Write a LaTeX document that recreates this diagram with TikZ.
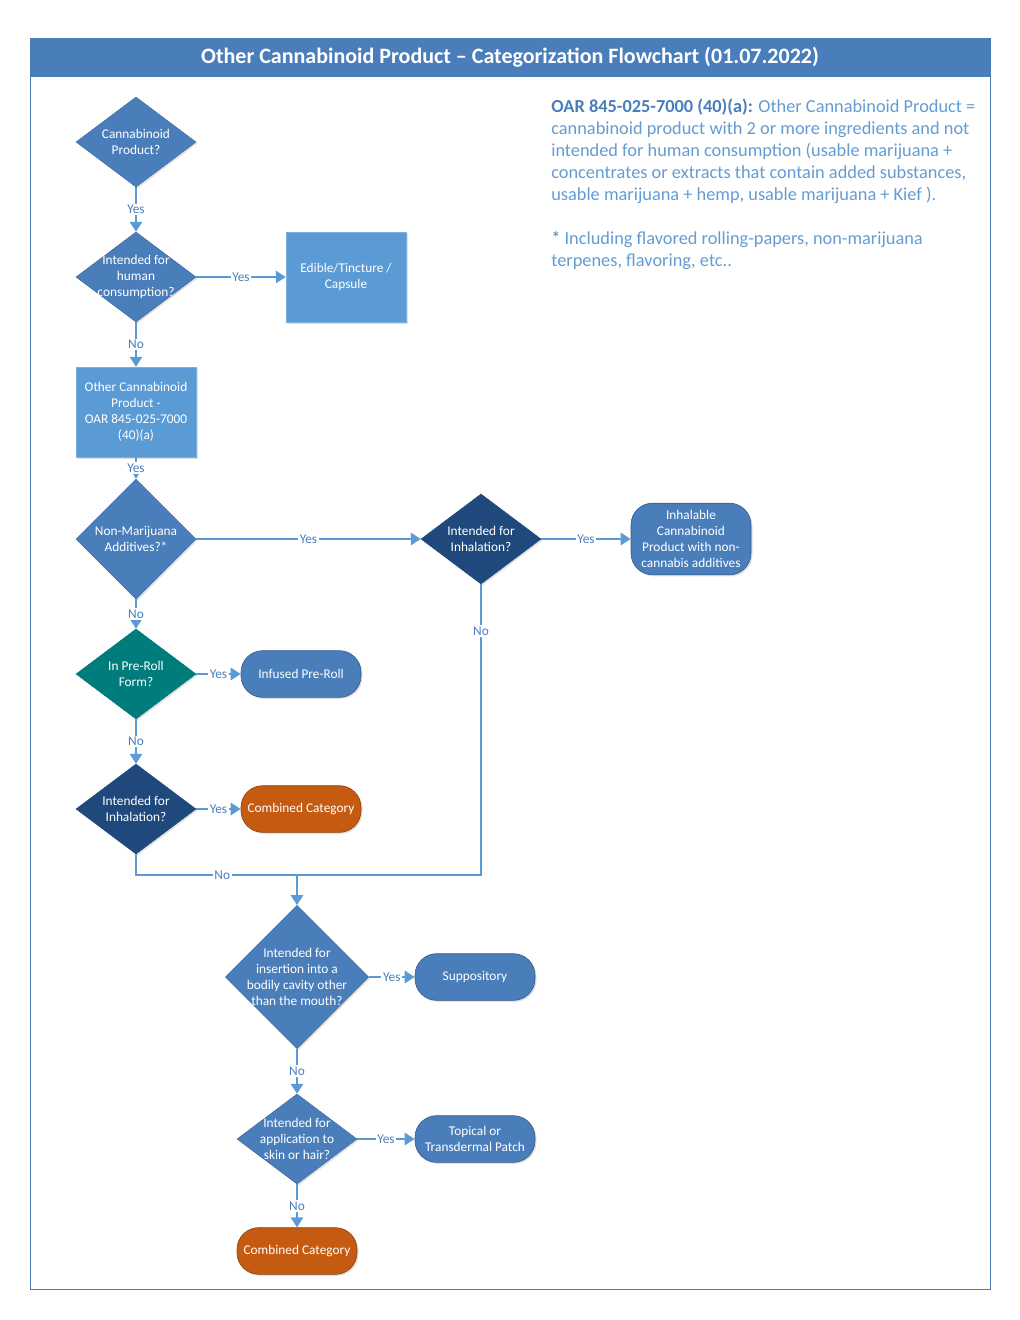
\documentclass[tikz,border=0pt]{standalone}
\usepackage{fontspec}
\setmainfont{Carlito}
\usepackage{xcolor}
\usepackage{tikz}
\usetikzlibrary{shapes.geometric, arrows.meta, shadows, calc}
\definecolor{midblue}{RGB}{74,126,187}
\definecolor{boxblue}{RGB}{91,155,213}
\definecolor{darkblue}{RGB}{31,73,125}
\definecolor{tealgreen}{RGB}{0,124,124}
\definecolor{burnt}{RGB}{197,90,17}
\definecolor{lineblue}{RGB}{91,155,213}
\definecolor{notecol}{RGB}{100,155,210}
\tikzstyle{boxshadow} = [drop shadow={opacity=0.25, shadow xshift=0.9pt, shadow yshift=-0.9pt}]
\tikzstyle{decision} = [diamond, font=\fontsize{8}{9.6}\selectfont, align=center, text=white, minimum width=72pt, minimum height=54pt, inner sep=-6pt, fill=midblue, draw=midblue!85!black, line width=0.3pt, boxshadow]
\tikzstyle{darkdecision} = [decision, fill=darkblue, draw=darkblue]
\tikzstyle{tealdecision} = [decision, fill=tealgreen, draw=tealgreen]
\tikzstyle{process} = [rectangle, font=\fontsize{8}{9.6}\selectfont, align=center, text=white, minimum width=72pt, minimum height=54pt, fill=boxblue, draw=boxblue!80!white, line width=0.3pt, boxshadow]
\tikzstyle{terminal} = [rectangle, rounded corners=13pt, font=\fontsize{8}{9.6}\selectfont, align=center, text=white, minimum width=72pt, minimum height=28pt, fill=midblue, draw=midblue!75!black, line width=0.4pt, boxshadow]
\tikzstyle{combined} = [terminal, fill=burnt, draw=burnt!75!black]
\tikzstyle{lbl} = [font=\fontsize{8}{9.6}\selectfont, text=midblue, fill=white, inner sep=1pt]
\tikzstyle{line} = [line width=1pt, lineblue]
\tikzstyle{arrow} = [line, -{Triangle[width=7.5pt,length=6pt]}]
\tikzstyle{notetext} = [font=\fontsize{11}{13.2}\selectfont, text=notecol, align=left, inner sep=0pt]

\begin{document}
\begin{tikzpicture}[x=0.6pt, y=0.6pt, node distance=81pt]
\useasboundingbox (0,0) rectangle (1020,-1320);
% frame and title
\draw [midblue, line width=0.6pt] (30,-38) rectangle (990,-1289);
\node (title) [rectangle, fill=midblue, minimum width=576pt, minimum height=23.4pt, text=white, font=\fontsize{13.2}{15}\selectfont\bfseries] at (510,-57.5) {Other Cannabinoid Product -- Categorization Flowchart (01.07.2022)};
\node (note) [notetext, anchor=north west] at (551,-99) {\textcolor{midblue}{\textbf{OAR 845-025-7000 (40)(a):}} Other Cannabinoid Product =\\
cannabinoid product with 2 or more ingredients and not\\
intended for human consumption (usable marijuana +\\
concentrates or extracts that contain added substances,\\
usable marijuana + hemp, usable marijuana + Kief ).\\[13.2pt]
\textcolor{midblue}{*} Including flavored rolling-papers, non-marijuana\\
terpenes, flavoring, etc..};

% flowchart
\node (isProduct) [decision] at (136,-142) {Cannabinoid\\Product?};
\node (humanUse) [decision, below of=isProduct] {Intended for\\human\\consumption?};
\node (edible) [process, right of=humanUse, xshift=45pt] {Edible/Tincture /\\Capsule};
\node (otherProd) [process, below of=humanUse] {Other Cannabinoid\\Product -\\OAR 845-025-7000\\(40)(a)};
\node (additives) [decision, below of=otherProd, yshift=4.8pt, minimum height=72pt] {Non-Marijuana\\Additives?*};
\node (inhaleA) [darkdecision, right of=additives, xshift=126pt] {Intended for\\Inhalation?};
\node (inhalable) [terminal, right of=inhaleA, xshift=45pt, minimum height=43pt] {Inhalable\\Cannabinoid\\Product with non-\\cannabis additives};
\node (preRoll) [tealdecision, below of=additives] {In Pre-Roll\\Form?};
\node (infused) [terminal, right of=preRoll, xshift=18pt] {Infused Pre-Roll};
\node (inhaleB) [darkdecision, below of=preRoll] {Intended for\\Inhalation?};
\node (comboA) [combined, right of=inhaleB, xshift=18pt] {Combined Category};
\node (cavity) [decision, below of=inhaleB, xshift=96.6pt, yshift=-19.8pt, minimum width=86pt, minimum height=86pt] {Intended for\\insertion into a\\bodily cavity other\\than the mouth?};
\node (suppos) [terminal, right of=cavity, xshift=25.8pt] {Suppository};
\node (skin) [decision, below of=cavity, yshift=-16.2pt] {Intended for\\application to\\skin or hair?};
\node (topical) [terminal, right of=skin, xshift=25.8pt] {Topical or\\Transdermal Patch};
\node (comboB) [combined, below of=skin, yshift=13.8pt] {Combined Category};
\coordinate (merge) at ($(inhaleB.south)+(0,-12.6pt)$);

\draw [arrow] (isProduct) -- node[lbl] {Yes} (humanUse);
\draw [arrow] (humanUse) -- node[lbl] {Yes} (edible);
\draw [arrow] (humanUse) -- node[lbl] {No} (otherProd);
\draw [arrow] (otherProd) -- node[lbl] {Yes} (additives);
\draw [arrow] (additives) -- node[lbl] {Yes} (inhaleA);
\draw [arrow] (inhaleA) -- node[lbl] {Yes} (inhalable);
\draw [arrow] (additives) -- node[lbl] {No} (preRoll);
\draw [arrow] (preRoll) -- node[lbl] {Yes} (infused);
\draw [arrow] (preRoll) -- node[lbl] {No} (inhaleB);
\draw [arrow] (inhaleB) -- node[lbl] {Yes} (comboA);
\draw [line] (inhaleB.south) -- (merge) -- node[lbl, pos=0.25] {No} (merge -| inhaleA.south) -- node[lbl, pos=0.84] {No} (inhaleA.south);
\draw [arrow] (merge -| cavity.north) -- (cavity.north);
\draw [arrow] (cavity) -- node[lbl] {Yes} (suppos);
\draw [arrow] (cavity) -- node[lbl] {No} (skin);
\draw [arrow] (skin) -- node[lbl] {Yes} (topical);
\draw [arrow] (skin) -- node[lbl] {No} (comboB);
\end{tikzpicture}
\end{document}
